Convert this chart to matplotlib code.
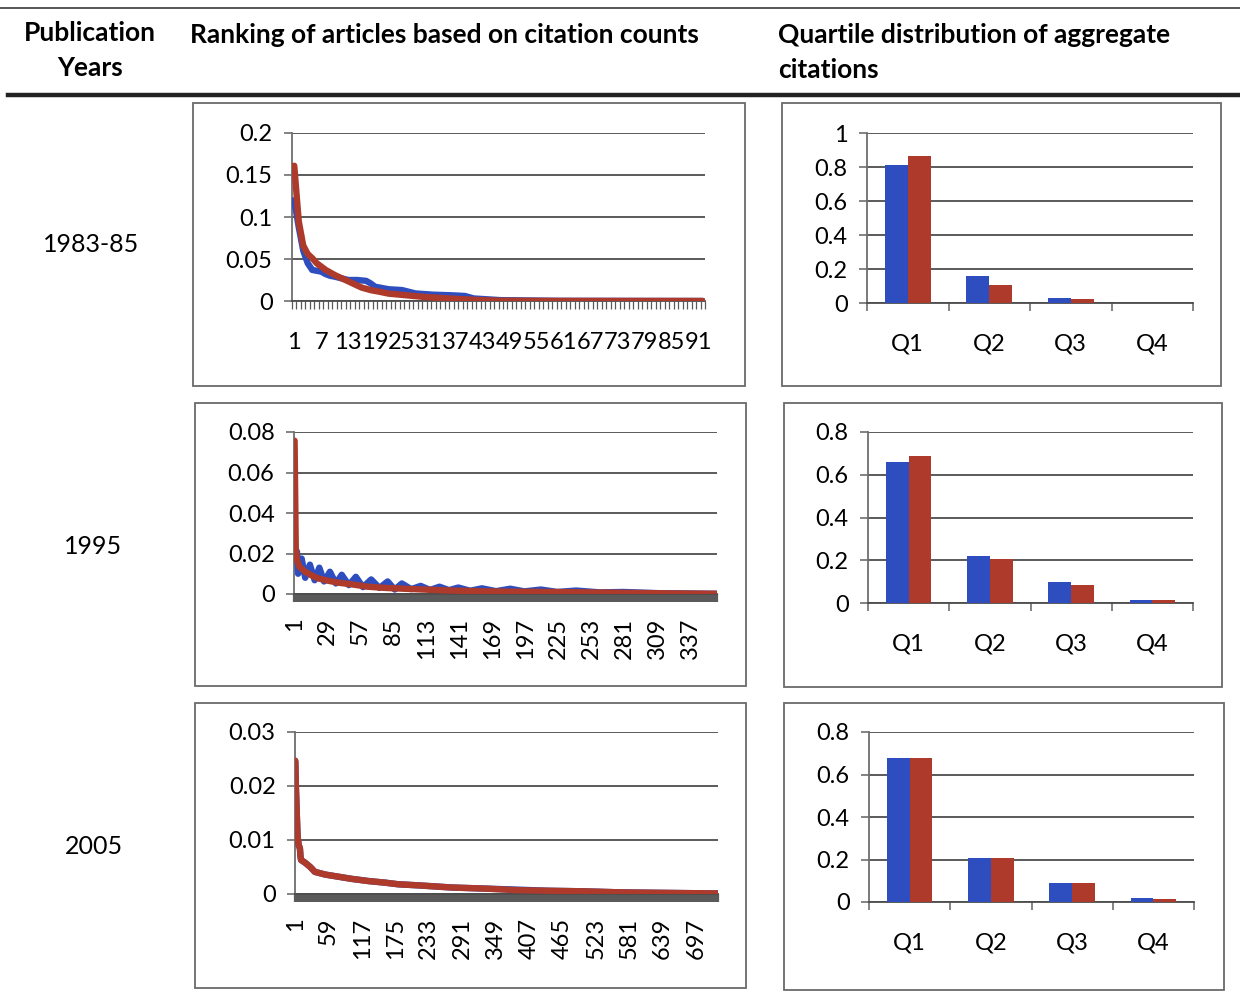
import matplotlib
matplotlib.use('Agg')
import matplotlib.pyplot as plt
from matplotlib.patches import Rectangle
from matplotlib.lines import Line2D
import numpy as np

plt.rcParams['font.family'] = ['Lato', 'DejaVu Sans']

# ---------------- data ----------------
row_labels = ['1983-85', '1995', '2005']
header_years = ['Publication', 'Years']
header_rank = 'Ranking of articles based on citation counts'
header_quart = ['Quartile distribution of aggregate', 'citations']

# ranking charts: number of articles (categories) per period
n_1983 = 92
n_1995 = 359
n_2005 = 735

# 1983-85 (ranks, share of citations)
r83_red = [1, 2, 3, 4, 5, 6, 7, 8, 9, 10, 12, 14, 16, 18, 20, 22, 26, 30, 34, 38, 42, 47, 60, 92]
v83_red = [0.161, 0.095, 0.066, 0.056, 0.051, 0.045, 0.041, 0.037, 0.034, 0.031, 0.026, 0.021,
           0.016, 0.013, 0.011, 0.0088, 0.0068, 0.0048, 0.0035, 0.0022, 0.0012, 0.0003, 0.0001, 0.0]
r83_blue = [1, 2, 3, 4, 5, 6, 7, 8, 9, 10, 13, 15, 17, 18, 19, 22, 25, 28, 32, 36, 39, 41, 47, 60, 92]
v83_blue = [0.120, 0.088, 0.060, 0.045, 0.037, 0.036, 0.035, 0.032, 0.030, 0.029, 0.025, 0.025,
            0.024, 0.021, 0.017, 0.014, 0.013, 0.009, 0.0075, 0.0068, 0.006, 0.003, 0.001, 0.0002, 0.0]

# 1995
r95_red = [1, 2, 3, 5, 10, 15, 21, 29, 38, 49, 63, 78, 106, 134, 162, 191, 217, 250, 278, 320, 359]
v95_red = [0.0757, 0.022, 0.017, 0.0135, 0.011, 0.0093, 0.0077, 0.0066, 0.0056, 0.0048, 0.0036,
           0.0030, 0.0023, 0.0017, 0.0013, 0.0011, 0.0010, 0.0008, 0.0006, 0.0003, 0.0001]
r95_blue = [1, 3, 4, 7, 10, 14, 18, 22, 26, 31, 36, 41, 47, 53, 59, 66, 73, 80, 86, 92, 100, 108,
            116, 124, 132, 140, 150, 160, 172, 184, 196, 210, 224, 240, 260, 280, 310, 359]
v95_blue = [0.020, 0.021, 0.010, 0.0175, 0.008, 0.0145, 0.0068, 0.013, 0.0062, 0.011, 0.0052, 0.0095,
            0.0044, 0.0085, 0.0034, 0.0072, 0.0030, 0.0062, 0.0022, 0.0052, 0.0024, 0.0040, 0.0020,
            0.0036, 0.0019, 0.0032, 0.0016, 0.0028, 0.0014, 0.0026, 0.0013, 0.0022, 0.0010, 0.0017,
            0.0008, 0.0010, 0.0004, 0.0001]

# 2005
r05_red = [1, 2, 3, 5, 7, 9, 10, 11, 18, 27, 35, 53, 76, 99, 128, 157, 180, 215, 273, 331, 389,
           441, 500, 567, 650, 735]
v05_red = [0.0247, 0.020, 0.0167, 0.0106, 0.0090, 0.0085, 0.0070, 0.0063, 0.0058, 0.0050, 0.0041,
           0.0036, 0.0032, 0.0028, 0.0024, 0.0021, 0.0018, 0.0016, 0.0012, 0.0010, 0.0007, 0.0006,
           0.0005, 0.0003, 0.0002, 0.0001]
r05_blue = [1, 2, 3, 5, 7, 9, 10, 11, 18, 27, 35, 53, 76, 99, 128, 157, 180, 215, 273, 331, 389,
            441, 500, 567, 650, 735]
v05_blue = [0.0245, 0.020, 0.0166, 0.0106, 0.0090, 0.0085, 0.0070, 0.0063, 0.0058, 0.0050, 0.0041,
            0.0036, 0.0032, 0.0028, 0.0024, 0.0021, 0.0018, 0.0016, 0.0012, 0.0010, 0.0008, 0.0006,
            0.0005, 0.0003, 0.0002, 0.0001]

# x tick labels of ranking charts
xt83 = [1, 7, 13, 19, 25, 31, 37, 43, 49, 55, 61, 67, 73, 79, 85, 91]
xt95 = [1, 29, 57, 85, 113, 141, 169, 197, 225, 253, 281, 309, 337]
xt05 = [1, 59, 117, 175, 233, 291, 349, 407, 465, 523, 581, 639, 697]

# y tick labels of ranking charts
yt83 = ['0', '0.05', '0.1', '0.15', '0.2']
yt95 = ['0', '0.02', '0.04', '0.06', '0.08']
yt05 = ['0', '0.01', '0.02', '0.03']

# quartile distributions
quartiles = ['Q1', 'Q2', 'Q3', 'Q4']
q83_blue = [0.809, 0.157, 0.030, 0.0]
q83_red = [0.862, 0.104, 0.026, 0.0]
q95_blue = [0.660, 0.218, 0.097, 0.014]
q95_red = [0.688, 0.207, 0.083, 0.0125]
q05_blue = [0.678, 0.208, 0.091, 0.017]
q05_red = [0.678, 0.208, 0.091, 0.0157]
yq83 = ['0', '0.2', '0.4', '0.6', '0.8', '1']
yq95 = ['0', '0.2', '0.4', '0.6', '0.8']
yq05 = ['0', '0.2', '0.4', '0.6', '0.8']

# ---------------- styling ----------------
W, H = 1240, 993
fig = plt.figure(figsize=(W / 100, H / 100), dpi=100)
BLUE = '#2E4EBF'
RED = '#AD3A2A'
GRID = '#4d4d4d'
AXIS = '#6e6e6e'
BOX = '#6a6a6a'
TICKFS = 17
HEADFS = 19
ROWFS = 18
LW = 4.6


def add_ax(x0, y0, x1, y1):
    return fig.add_axes([x0 / W, 1 - y1 / H, (x1 - x0) / W, (y1 - y0) / H])


def add_box(x0, y0, x1, y1):
    fig.patches.append(Rectangle((x0 / W, 1 - y1 / H), (x1 - x0) / W, (y1 - y0) / H,
                                 transform=fig.transFigure, fill=False, ec=BOX, lw=1.3))


def base_style(ax, ylabels, ystep):
    ymax = ystep * (len(ylabels) - 1)
    ax.set_ylim(0, ymax)
    ax.set_yticks([ystep * i for i in range(len(ylabels))])
    ax.set_yticklabels(ylabels, fontsize=TICKFS)
    ax.yaxis.grid(True, color=GRID, lw=1.3)
    ax.set_axisbelow(True)
    for s in ['top', 'right']:
        ax.spines[s].set_visible(False)
    ax.spines['left'].set_color(AXIS)
    ax.spines['left'].set_linewidth(1.3)
    ax.spines['bottom'].set_color(GRID)
    ax.spines['bottom'].set_linewidth(1.3)
    ax.tick_params(axis='y', which='major', direction='out', length=6, width=1.2,
                   color=AXIS, pad=8, labelcolor='black')
    ax.set_facecolor('none')


def line_chart(box, area, n, rb, vb, rr, vr, xt, rotate, ylabels, ystep):
    add_box(*box)
    ax = add_ax(*area)
    base_style(ax, ylabels, ystep)
    ax.set_xlim(0.5, n + 0.5)
    ax.plot(rb, vb, color=BLUE, lw=LW, solid_joinstyle='round', solid_capstyle='round', zorder=3)
    ax.plot(rr, vr, color=RED, lw=LW, solid_joinstyle='round', solid_capstyle='round', zorder=4)
    ax.set_xticks(xt)
    ax.set_xticklabels([str(v) for v in xt], fontsize=TICKFS,
                       rotation=90 if rotate else 0)
    ax.set_xticks(np.arange(0.5, n + 1, 1.0), minor=True)
    ax.tick_params(axis='x', which='major', length=0, pad=17 if rotate else 22)
    ax.tick_params(axis='x', which='minor', direction='out', length=5.5,
                   width=1.6 if rotate else 0.9, color='#5a5a5a')
    return ax


def bar_chart(box, area, qb, qr, ylabels, ystep):
    add_box(*box)
    ax = add_ax(*area)
    base_style(ax, ylabels, ystep)
    x = np.arange(len(quartiles))
    w = 0.28
    ax.bar(x - w / 2, qb, w, color=BLUE, zorder=3)
    ax.bar(x + w / 2, qr, w, color=RED, zorder=3)
    ax.set_xlim(-0.5, len(quartiles) - 0.5)
    ax.set_xticks(x)
    ax.set_xticklabels(quartiles, fontsize=TICKFS)
    ax.set_xticks(np.arange(-0.5, len(quartiles), 1.0), minor=True)
    ax.tick_params(axis='x', which='major', length=0, pad=22)
    ax.tick_params(axis='x', which='minor', direction='out', length=5.5, width=1.2, color=AXIS)
    return ax


# ---------------- header ----------------
fig.add_artist(Line2D([0, 1], [1 - 8 / H] * 2, color='#3a3a3a', lw=1.2))
fig.add_artist(Line2D([8 / W, 1], [1 - 95 / H] * 2, color='#222222', lw=3.2))
fig.text(90 / W, 1 - 33 / H, header_years[0], ha='center', va='center', fontsize=HEADFS, fontweight='bold')
fig.text(90 / W, 1 - 68 / H, header_years[1], ha='center', va='center', fontsize=HEADFS, fontweight='bold')
fig.text(190 / W, 1 - 35 / H, header_rank, ha='left', va='center', fontsize=HEADFS, fontweight='bold')
fig.text(778 / W, 1 - 35 / H, header_quart[0], ha='left', va='center', fontsize=HEADFS, fontweight='bold')
fig.text(778 / W, 1 - 70 / H, header_quart[1], ha='left', va='center', fontsize=HEADFS, fontweight='bold')

fig.text(91 / W, 1 - 245 / H, row_labels[0], ha='center', va='center', fontsize=ROWFS)
fig.text(93 / W, 1 - 546 / H, row_labels[1], ha='center', va='center', fontsize=ROWFS)
fig.text(94 / W, 1 - 846 / H, row_labels[2], ha='center', va='center', fontsize=ROWFS)

# ---------------- charts ----------------
line_chart((193, 103, 745, 386), (292, 133, 705, 301), n_1983,
           r83_blue, v83_blue, r83_red, v83_red, xt83, False, yt83, 0.05)
line_chart((195, 403, 746, 686), (294, 432, 717, 594), n_1995,
           r95_blue, v95_blue, r95_red, v95_red, xt95, True, yt95, 0.02)
line_chart((195, 703, 746, 988), (295, 732, 718, 894), n_2005,
           r05_blue, v05_blue, r05_red, v05_red, xt05, True, yt05, 0.01)

bar_chart((782, 103, 1221, 386), (867, 133, 1193, 303), q83_blue, q83_red, yq83, 0.2)
bar_chart((784, 403, 1222, 687), (868, 432, 1193, 603), q95_blue, q95_red, yq95, 0.2)
bar_chart((784, 703, 1224, 990), (869, 732, 1194, 902), q05_blue, q05_red, yq05, 0.2)

fig.savefig('out.png', dpi=100, facecolor='white')
